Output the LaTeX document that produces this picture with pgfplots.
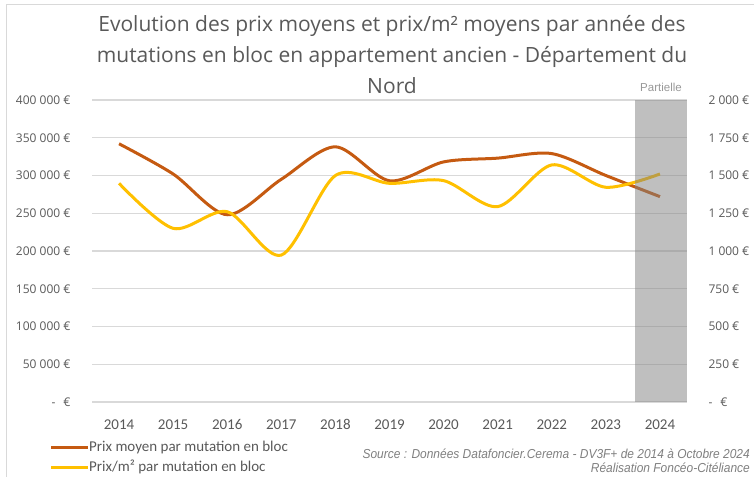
\documentclass[border=0pt]{standalone}
\usepackage{fontspec}
\setmainfont{Carlito}
\newfontfamily\arialf{Liberation Sans}
\newfontfamily\segoe{Open Sans}
\usepackage{pgfplots}
\pgfplotsset{compat=1.18}
\definecolor{brn}{HTML}{C55A11}
\definecolor{ylw}{HTML}{FFC000}
\definecolor{txt}{HTML}{595959}
\definecolor{grd}{HTML}{D9D9D9}
\definecolor{src}{HTML}{7F7F7F}
\begin{document}
\begin{tikzpicture}[x=1pt,y=1pt]
\path[use as bounding box] (0,0) rectangle (754,476);
\draw[grd, line width=1pt] (6,-10) rectangle (800,471);
\node[anchor=base, font=\segoe\fontsize{21}{24}\selectfont, text=txt] at (392,444) {Evolution des prix moyens et prix/m² moyens par année des};
\node[anchor=base, font=\segoe\fontsize{21}{24}\selectfont, text=txt] at (392,413) {mutations en bloc en appartement ancien - Département du};
\node[anchor=base, font=\segoe\fontsize{21}{24}\selectfont, text=txt] at (392,382) {Nord};
\begin{axis}[
  at={(92pt,74pt)}, anchor=south west,
  scale only axis, width=595pt, height=302pt,
  xmin=2013.5, xmax=2024.5, ymin=0, ymax=400000,
  axis line style={draw=none},
  ymajorgrids, major grid style={grd, line width=1.2pt},
  major tick length=0pt,
  scaled y ticks=false,
  xtick={2014,2015,2016,2017,2018,2019,2020,2021,2022,2023,2024},
  xticklabels={2014,2015,2016,2017,2018,2019,2020,2021,2022,2023,2024},
  xticklabel style={font=\fontsize{15}{16}\selectfont, text=txt, yshift=-14pt},
  ytick={0,50000,100000,150000,200000,250000,300000,350000,400000},
  yticklabels={{-\hspace{8pt}€},{50 000 €},{100 000 €},{150 000 €},{200 000 €},{250 000 €},{300 000 €},{350 000 €},{400 000 €}},
  yticklabel style={font=\segoe\fontsize{12}{14}\selectfont, text=txt, xshift=-18pt},
  clip=false,
]
\addplot[brn, line width=3pt, smooth, tension=0.5] coordinates {
(2014,342000) (2015,302000) (2016,248000) (2017,295000) (2018,338000) (2019,293000) (2020,318000) (2021,323000) (2022,329000) (2023,300000) (2024,272000)};
\end{axis}
\begin{axis}[
  at={(92pt,74pt)}, anchor=south west,
  scale only axis, width=595pt, height=302pt,
  xmin=2013.5, xmax=2024.5, ymin=0, ymax=2000,
  axis line style={draw=none},
  major tick length=0pt,
  scaled y ticks=false,
  xtick=\empty,
  axis y line*=right,
  ytick={0,250,500,750,1000,1250,1500,1750,2000},
  yticklabels={{-\hspace{8pt}€},{250 €},{500 €},{750 €},{1 000 €},{1 250 €},{1 500 €},{1 750 €},{2 000 €}},
  yticklabel style={font=\segoe\fontsize{12}{14}\selectfont, text=txt, anchor=west, xshift=18pt},
  clip=false,
]
\addplot[ylw, line width=3pt, smooth, tension=0.5] coordinates {
(2014,1448) (2015,1150) (2016,1260) (2017,973) (2018,1500) (2019,1448) (2020,1466) (2021,1294) (2022,1570) (2023,1422) (2024,1510)};
\addplot[fill=gray, fill opacity=0.5, draw=none] coordinates {(2023.54,0) (2024.5,0) (2024.5,2000) (2023.54,2000)} -- cycle;
\end{axis}
\node[font=\arialf\fontsize{11.5}{14}\selectfont, text=src!80] at (661,389) {Partielle};
\draw[brn, line width=3pt] (51,28) -- (88,28);
\draw[ylw, line width=3pt] (51,9) -- (88,9);
\node[anchor=west, font=\fontsize{15}{16}\selectfont, text=txt, inner sep=0pt] at (89,28) {Prix moyen par mutation en bloc};
\node[anchor=west, font=\fontsize{15}{16}\selectfont, text=txt, inner sep=0pt] at (89,9) {Prix/m² par mutation en bloc};
\node[anchor=east, font=\arialf\itshape\fontsize{13}{14}\selectfont, text=src, inner sep=0pt, xscale=0.92] at (750,22) {Source : Données Datafoncier.Cerema - DV3F+ de 2014 à Octobre 2024};
\node[anchor=east, font=\arialf\itshape\fontsize{13}{14}\selectfont, text=src, inner sep=0pt, xscale=0.92] at (750,8) {Réalisation Foncéo-Citéliance};
\end{tikzpicture}
\end{document}
